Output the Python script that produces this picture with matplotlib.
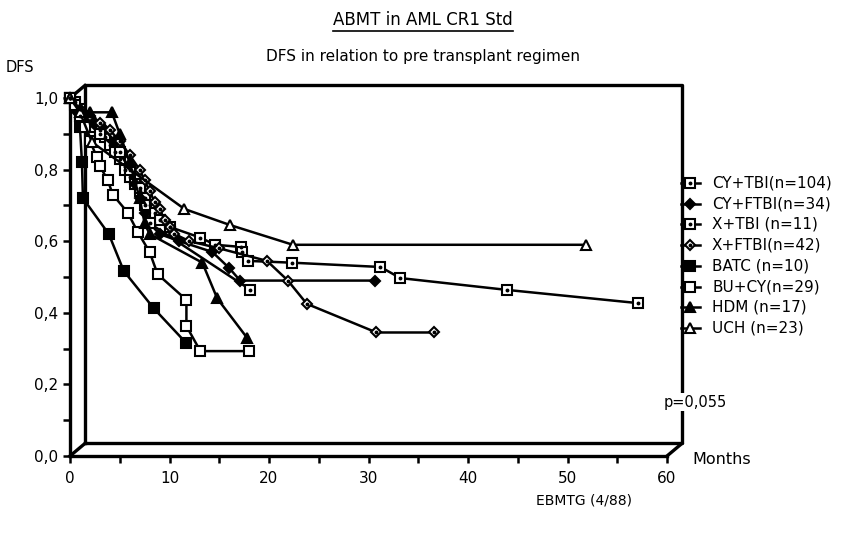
import matplotlib
matplotlib.use("Agg")
import matplotlib.pyplot as plt
from matplotlib.lines import Line2D
from matplotlib.ticker import MultipleLocator, FuncFormatter

# months / DFS
cy_tbi_x = [0, 0.5, 1, 1.5, 2, 2.5, 3, 3.5, 4, 4.5, 5, 5.5, 6, 6.5, 7, 7.5, 8, 8.5, 9, 10,
            13.1, 14.6, 17.2, 17.3, 17.9, 22.3, 31.2, 33.2, 43.9, 57.1]
cy_tbi_y = [1.0, 0.99, 0.97, 0.95, 0.93, 0.92, 0.91, 0.89, 0.87, 0.85, 0.83, 0.80, 0.78, 0.76, 0.74,
            0.72, 0.70, 0.68, 0.66, 0.64, 0.61, 0.59, 0.584, 0.57, 0.545, 0.54, 0.528, 0.497, 0.464, 0.427]

cy_ftbi_x = [0, 0.7, 1.5, 2.5, 3.5, 4.5, 5, 6, 6.5, 7, 7.5, 8, 9, 11, 14.3, 16.0, 17.1, 30.7]
cy_ftbi_y = [1.0, 0.96, 0.94, 0.93, 0.91, 0.88, 0.85, 0.80, 0.76, 0.72, 0.68, 0.65, 0.62, 0.60,
             0.57, 0.525, 0.49, 0.49]

x_tbi_x = [0, 1, 3, 5, 6, 7, 7.5, 8, 18.1]
x_tbi_y = [1.0, 0.95, 0.90, 0.85, 0.80, 0.75, 0.70, 0.65, 0.465]

x_ftbi_x = [0, 1, 2, 3, 4, 5, 6, 7, 7.5, 8, 8.5, 9, 9.5, 10, 10.5, 12, 15, 19.8, 21.9, 23.8, 30.8, 36.6]
x_ftbi_y = [1.0, 0.97, 0.95, 0.93, 0.91, 0.88, 0.84, 0.80, 0.77, 0.74, 0.71, 0.69, 0.66, 0.64,
            0.62, 0.60, 0.58, 0.545, 0.49, 0.425, 0.345, 0.345]

batc_x = [0, 1.0, 1.2, 1.3, 3.9, 5.4, 8.4, 11.7]
batc_y = [1.0, 0.92, 0.82, 0.72, 0.62, 0.517, 0.413, 0.315]

bu_cy_x = [0, 0.5, 1.0, 1.5, 2.0, 2.7, 3.0, 3.8, 4.3, 5.8, 6.8, 8.0, 8.8, 11.7, 11.7, 13.1, 18.0]
bu_cy_y = [1.0, 0.98, 0.95, 0.92, 0.88, 0.835, 0.81, 0.77, 0.73, 0.68, 0.626, 0.57, 0.508,
           0.436, 0.363, 0.293, 0.293]

hdm_x = [0, 1, 2, 4.2, 5, 6, 7, 7.5, 8, 13.3, 14.8, 17.8]
hdm_y = [1.0, 0.97, 0.96, 0.96, 0.90, 0.82, 0.72, 0.65, 0.62, 0.54, 0.44, 0.33]

uch_x = [0, 1.0, 2.2, 11.5, 16.1, 22.4, 51.9]
uch_y = [1.0, 0.96, 0.877, 0.69, 0.645, 0.59, 0.59]

labels = ["CY+TBI(n=104)", "CY+FTBI(n=34)", "X+TBI (n=11)", "X+FTBI(n=42)",
          "BATC (n=10)", "BU+CY(n=29)", "HDM (n=17)", "UCH (n=23)"]

# marker, face colour, small centre dot
styles = [("s", "white", True), ("D", "black", False), ("s", "white", True), ("D", "white", True),
          ("s", "black", False), ("s", "white", False), ("^", "black", False), ("^", "white", False)]

series = [(cy_tbi_x, cy_tbi_y), (cy_ftbi_x, cy_ftbi_y), (x_tbi_x, x_tbi_y), (x_ftbi_x, x_ftbi_y),
          (batc_x, batc_y), (bu_cy_x, bu_cy_y), (hdm_x, hdm_y), (uch_x, uch_y)]

plt.rcParams["font.family"] = ["DejaVu Sans"]
W, H = 846, 542
fig = plt.figure(figsize=(W / 100, H / 100), dpi=100)
ax = fig.add_axes([70 / W, (H - 456) / H, 597 / W, 358 / H])
ax.set_xlim(0, 60)
ax.set_ylim(0, 1)

for (xs, ys), (mk, fc, dot) in zip(series, styles):
    ms = 6.5 if mk != "D" else 5.5
    ax.plot(xs, ys, color="black", lw=1.8, marker=mk, ms=ms, mfc=fc, mec="black",
            mew=1.5, clip_on=False, zorder=3)
    if dot:
        ax.plot(xs, ys, ls="none", marker="o", ms=1.8, color="black", clip_on=False, zorder=4)

# pseudo-3D back wall
dx, dy = 1.5, 0.035
frame = dict(color="black", lw=2.4, clip_on=False, solid_capstyle="projecting", zorder=2)
ax.plot([dx, 60 + dx, 60 + dx, dx, dx], [dy, dy, 1 + dy, 1 + dy, dy], **frame)
ax.plot([0, dx], [0, dy], **frame)
ax.plot([60, 60 + dx], [0, dy], **frame)
ax.plot([0, dx], [1, 1 + dy], **frame)

for s in ["top", "right"]:
    ax.spines[s].set_visible(False)
for s in ["left", "bottom"]:
    ax.spines[s].set_linewidth(2.4)

ax.xaxis.set_major_locator(MultipleLocator(10))
ax.xaxis.set_minor_locator(MultipleLocator(5))
ax.yaxis.set_major_locator(MultipleLocator(0.2))
ax.yaxis.set_minor_locator(MultipleLocator(0.1))
ax.yaxis.set_major_formatter(FuncFormatter(lambda v, p: f"{v:.1f}".replace(".", ",")))
ax.tick_params(which="both", direction="out", length=5, width=1.8, labelsize=11)
ax.tick_params(axis="x", pad=6)

# legend drawn by hand on the right wall
for i, ((mk, fc, dot), lab) in enumerate(zip(styles, labels)):
    yy = 1 - (183 + i * 20.7) / H
    ms = 6.5 if mk != "D" else 5.5
    fig.add_artist(Line2D([681 / W, 700 / W], [yy, yy], color="black", lw=1.8,
                          transform=fig.transFigure))
    fig.add_artist(Line2D([690 / W], [yy], marker=mk, ms=ms, mfc=fc, mec="black", mew=1.5,
                          transform=fig.transFigure))
    if dot:
        fig.add_artist(Line2D([690 / W], [yy], marker="o", ms=1.8, color="black",
                              transform=fig.transFigure))
    fig.text(712 / W, yy, lab, fontsize=11, va="center", ha="left")

title = fig.text(0.5, 1 - 20 / H, "ABMT in AML CR1 Std", fontsize=12, ha="center", va="center")
fig.text(0.5, 1 - 57 / H, "DFS in relation to pre transplant regimen", fontsize=11,
         ha="center", va="center")
fig.text(6 / W, 1 - 67 / H, "DFS", fontsize=10.5, ha="left", va="center")
fig.text(692 / W, 1 - 460 / H, "Months", fontsize=11.5, ha="left", va="center")
fig.text(664 / W, 1 - 402 / H, "p=0,055", fontsize=10.5, ha="left", va="center", zorder=5,
         bbox=dict(facecolor="white", edgecolor="none", pad=1))
fig.text(536 / W, 1 - 500 / H, "EBMTG (4/88)", fontsize=10, ha="left", va="center")

# underline the title
fig.canvas.draw()
bb = title.get_window_extent().transformed(fig.transFigure.inverted())
fig.add_artist(Line2D([bb.x0, bb.x1], [bb.y0 - 0.003, bb.y0 - 0.003], color="black", lw=1.2,
                      transform=fig.transFigure))

fig.savefig("out.png", dpi=100)
